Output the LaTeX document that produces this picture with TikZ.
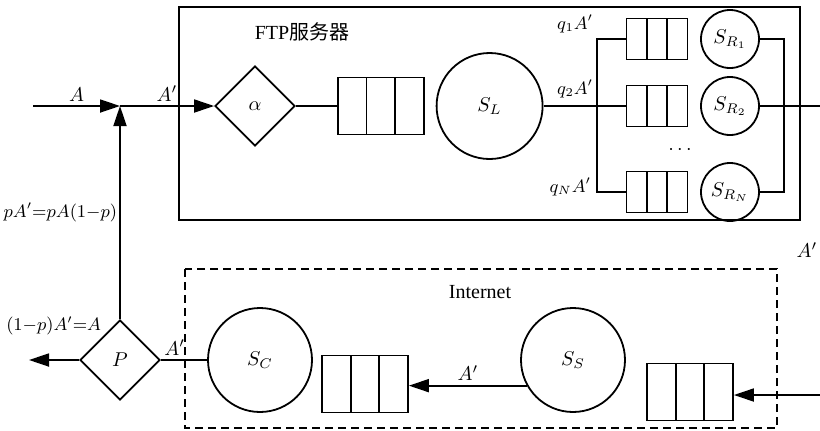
\documentclass[tikz,border=0pt]{standalone}
\usepackage{fontspec}
\setmainfont{Liberation Serif}
\newfontfamily\cjk{Noto Sans CJK SC}
\usepackage{tikz}
\usetikzlibrary{positioning, shapes.geometric, calc, arrows.meta}

\begin{document}
\begin{tikzpicture}[
    x=0.5pt, y=-0.5pt,
    line width=0.9pt,
    server/.style={draw, circle, inner sep=0pt, minimum size=#1},
    gate/.style={draw, diamond, inner sep=0pt, minimum width=40pt, minimum height=40pt},
    queue/.style 2 args={draw, rectangle, inner sep=0pt, minimum width=#1, minimum height=#2,
        path picture={\foreach \k in {1,2}
            \draw ($(path picture bounding box.north west)!\k/3!(path picture bounding box.north east)$)
               -- ($(path picture bounding box.south west)!\k/3!(path picture bounding box.south east)$);}},
    bigq/.style={queue={43pt}{28.5pt}},
    smallq/.style={queue={30.5pt}{20.5pt}},
    arr/.style={-{Triangle[length=10pt, width=6.5pt]}},
    lbl/.style={font=\normalsize, inner sep=2pt},
]
\useasboundingbox (0,0) rectangle (820,430);

% FTP server
\draw (179,7) rectangle (800,220);
\node[lbl] (ftp) at (302,32) {FTP{\cjk 服务器}};
\node[gate] (alpha) at (255,106) {$\alpha$};
\node[bigq, right=20.5pt of alpha] (qL) {};
\node[server=53pt, right=5.5pt of qL] (SL) {$S_L$};
\coordinate (split) at (597,106);
\node[smallq] (q1) at (657,39) {};
\node[smallq] (q2) at (657,106) {};
\node[smallq] (qN) at (657,192) {};
\node[server=29pt] (R1) at (730,39) {$S_{R_1}$};
\node[server=29pt] (R2) at (730,106) {$S_{R_2}$};
\node[server=29pt] (RN) at (730,192) {$S_{R_N}$};
\coordinate (merge) at (784,106);
\coordinate (out) at (820,106);
\node[lbl, anchor=east, font=\small] (lq1) at (598,24) {$q_1A'$};
\node[lbl, anchor=east, font=\small] (lq2) at (598,89) {$q_2A'$};
\node[lbl, anchor=east, font=\small] (lqN) at (596,187) {$q_NA'$};
\node[lbl] (dots) at (680,150) {$\cdots$};

% feedback part
\coordinate (in) at (33,106);
\coordinate (join) at (120,106);
\node[gate] (P) at (120,360) {$P$};
\coordinate (exit) at (29,360);
\node[lbl, anchor=east, font=\small] (lback) at (106,326) {$(1{-}p)A'{=}A$};
\node[lbl] (lout) at (807,250) {$A'$};

% Internet
\draw[dash pattern=on 4pt off 2.5pt] (185,269) rectangle (777,428);
\node[lbl] (inet) at (480,292) {Internet};
\node[server=52pt] (SC) at (260,360) {$S_C$};
\node[bigq] (qC) at (365,384) {};
\node[server=52pt] (SS) at (573,360) {$S_S$};
\node[bigq] (qS) at (690,392) {};
\coordinate (in2) at (820,395);

\draw[arr] (in) -- node[lbl, above] {$A$} (join);
\draw[arr] (P) -- node[lbl, left, inner sep=1pt, font=\small] {$pA'{=}pA(1{-}p)$} (join);
\draw[arr] (join) -- node[lbl, above] {$A'$} (alpha);
\draw (alpha) -- (qL);
\draw (SL) -- (split);
\draw (split) |- (q1);
\draw (split) -- (q2);
\draw (split) |- (qN);
\draw (R1) -| (merge) |- (RN);
\draw (R2) -- (out);
\draw (P) -- node[lbl, above, pos=0.3] {$A'$} (SC);
\draw[arr] (P) -- (exit);
\draw[arr] (SS.209) -- node[lbl, above] {$A'$} (SS.209 -| qC.east);
\draw[arr] (in2) -- (in2 -| qS.east);
\end{tikzpicture}
\end{document}
